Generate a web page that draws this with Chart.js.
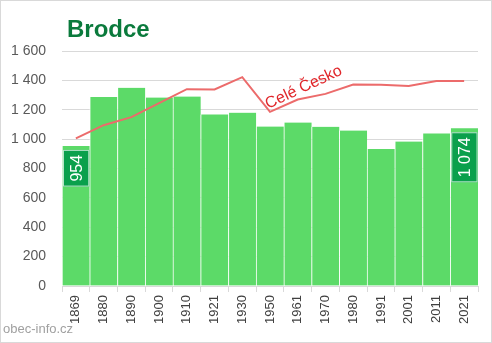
<!DOCTYPE html>
<html>
<head>
<meta charset="utf-8">
<script src="https://cdn.jsdelivr.net/npm/chart.js@4/dist/chart.umd.min.js"></script>
<style>
html,body{margin:0;padding:0;background:#fff;}
#c{display:block;}
</style>
</head>
<body>
<canvas id="c" width="492" height="343"></canvas>
<script>
const title = 'Brodce';
const watermark = 'obec-info.cz';
const lineLabel = 'Celé Česko';
const years = ['1869','1880','1890','1900','1910','1921','1930','1950','1961','1970','1980','1991','2001','2011','2021'];
const population = [954,1286,1350,1283,1290,1168,1180,1086,1113,1084,1059,932,984,1039,1074];
const czechScaled = [1005,1095,1150,1245,1340,1338,1422,1186,1270,1308,1372,1370,1361,1395,1395];
const yTicks = [0,200,400,600,800,1000,1200,1400,1600];

const fmt = v => String(v).replace(/\B(?=(\d{3})+(?!\d))/g, '\u00a0');
const FONT = '"Liberation Sans", Arial, sans-serif';

const decor = {
  id: 'decor',
  afterDatasetsDraw(chart) {
    const ctx = chart.ctx;
    const meta = chart.getDatasetMeta(1);
    const xs = chart.scales.x, ys = chart.scales.y;
    // value boxes on first and last bar
    [0, population.length - 1].forEach(i => {
      const bar = meta.data[i];
      const left = bar.x - bar.width / 2 + 1, w = bar.width - 1.5;
      ctx.save();
      ctx.font = '16px ' + FONT;
      const txt = fmt(population[i]);
      const tw = ctx.measureText(txt).width;
      const h = tw + 10;
      const top = bar.y + 4;
      ctx.fillStyle = '#0aa04c';
      ctx.fillRect(left, top, w, h);
      ctx.strokeStyle = 'rgba(255,255,255,0.7)';
      ctx.lineWidth = 1;
      ctx.strokeRect(left + 0.5, top + 0.5, w - 1, h - 1);
      ctx.translate(bar.x + 0.5, top + h / 2);
      ctx.rotate(-Math.PI / 2);
      ctx.fillStyle = '#ffffff';
      ctx.textAlign = 'center';
      ctx.textBaseline = 'middle';
      ctx.fillText(txt, 0, 1);
      ctx.restore();
    });
    // line label
    ctx.save();
    ctx.translate(xs.getPixelForValue(8) + 6, ys.getPixelForValue(1352));
    ctx.rotate(-25 * Math.PI / 180);
    ctx.font = '16px ' + FONT;
    ctx.fillStyle = '#e0262a';
    ctx.textAlign = 'center';
    ctx.textBaseline = 'middle';
    ctx.fillText(lineLabel, 0, 0);
    ctx.restore();
  },
  afterDraw(chart) {
    const ctx = chart.ctx;
    ctx.save();
    ctx.font = 'bold 24px ' + FONT;
    ctx.fillStyle = '#0a7a3c';
    ctx.textBaseline = 'alphabetic';
    ctx.fillText(title, 67, 37);
    ctx.font = '13px ' + FONT;
    ctx.fillStyle = '#a0a0a0';
    ctx.fillText(watermark, 3, 333);
    ctx.strokeStyle = '#d9d9d9';
    ctx.lineWidth = 1;
    ctx.strokeRect(0.5, 0.5, 491, 342);
    ctx.restore();
  }
};

new Chart(document.getElementById('c'), {
  data: {
    labels: years,
    datasets: [
      {
        type: 'line',
        label: lineLabel,
        data: czechScaled,
        borderColor: '#ec6b6b',
        borderWidth: 2,
        pointRadius: 0,
        tension: 0,
        order: 0
      },
      {
        type: 'bar',
        label: title,
        data: population,
        backgroundColor: '#5cda68',
        borderColor: 'rgba(255,255,255,0.75)',
        borderWidth: {left: 1, right: 0, top: 0, bottom: 0},
        borderSkipped: false,
        categoryPercentage: 1,
        barPercentage: 1,
        order: 1
      }
    ]
  },
  options: {
    responsive: false,
    animation: false,
    layout: {padding: {top: 51, right: 14, left: 0, bottom: 0}},
    plugins: {legend: {display: false}, tooltip: {enabled: false}, title: {display: false}},
    scales: {
      x: {
        offset: true,
        grid: {offset: true, drawOnChartArea: false, color: '#d9d9d9', tickLength: 6},
        border: {display: true, color: '#d9d9d9'},
        ticks: {
          maxRotation: 90, minRotation: 90,
          color: '#404040',
          font: {family: FONT, size: 13},
          padding: 3,
          autoSkip: false
        },
        afterFit(s) { s.height = 57; }
      },
      y: {
        min: 0, max: 1600,
        afterBuildTicks(s) { s.ticks = yTicks.map(v => ({value: v})); },
        grid: {color: '#d9d9d9', drawTicks: false},
        border: {display: false},
        ticks: {
          color: '#595959',
          font: {family: FONT, size: 14},
          padding: 16,
          callback: v => fmt(v)
        },
        afterFit(s) { s.width = 62; }
      }
    }
  },
  plugins: [decor]
});
</script>
</body>
</html>
